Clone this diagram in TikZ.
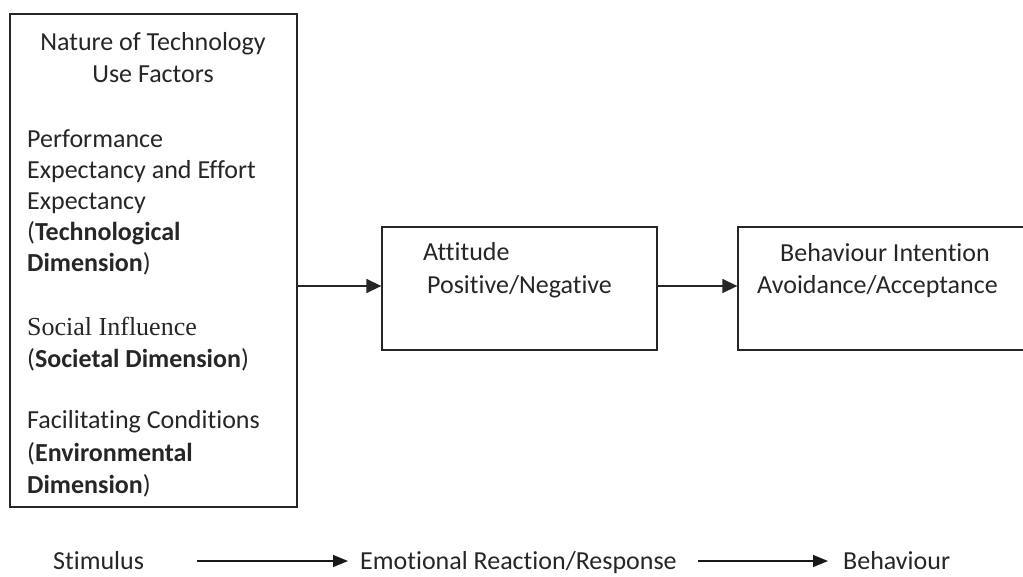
\documentclass[tikz,border=0pt]{standalone}
\usepackage{fontspec}
\setmainfont{Carlito}[Ligatures={NoCommon}]
\newfontfamily\socfont{Liberation Serif}
\usetikzlibrary{arrows.meta}
\begin{document}
\begin{tikzpicture}[x=1pt,y=-1pt,
  box/.style={draw=black!85,line width=1.3pt,inner sep=0pt},
  txt/.style={anchor=base west,inner sep=0pt,font=\fontsize{26}{31}\selectfont,text=black!85},
  conn/.style={line width=1.4pt,draw=black!85,-{Triangle[length=15pt,width=14pt]}},
  flow/.style={line width=1.3pt,draw=black!90,-{Triangle[length=15pt,width=12pt]}}]
\useasboundingbox (0,0) rectangle (1023,576);
% boxes
\node[box,minimum width=287pt,minimum height=493pt] (factors) at (153.5,260.5) {};
\node[box,minimum width=275pt,minimum height=123pt] (att) at (519.5,288.5) {};
\node[box,minimum width=288pt,minimum height=123pt] (beh) at (882,288.5) {};
% left box text
\node[txt,anchor=base] (h1) at (153,50) {Nature of Technology};
\node[txt,anchor=base] (h2) at (153,82) {Use Factors};
\node[txt] (p1) at (27,147) {Performance};
\node[txt] (p2) at (27,178) {Expectancy and Effort};
\node[txt] (p3) at (27,209) {Expectancy};
\node[txt] (p4) at (27,240) {(\textbf{Technological}};
\node[txt] (p5) at (27,271) {\textbf{Dimension})};
\node[txt,font=\fontsize{26}{31}\socfont] (s1) at (27,335) {Social Influence};
\node[txt] (s2) at (27,367) {(\textbf{Societal Dimension})};
\node[txt] (f1) at (27,428) {Facilitating Conditions};
\node[txt] (f2) at (27,461) {(\textbf{Environmental}};
\node[txt] (f3) at (27,493) {\textbf{Dimension})};
% attitude text
\node[txt] (a1) at (423,260) {Attitude};
\node[txt] (a2) at (427,293) {Positive/Negative};
% behaviour text
\node[txt] (b1) at (780,261) {Behaviour Intention};
\node[txt] (b2) at (757,293) {Avoidance/Acceptance};
% connectors
\draw[conn] (factors.east |- 0,286) -- (att.west |- 0,286);
\draw[conn] (att.east |- 0,286) -- (beh.west |- 0,286);
% bottom flow
\node[txt] (stim) at (53,569) {Stimulus};
\node[txt] (emo) at (360,569) {Emotional Reaction/Response};
\node[txt] (bhv) at (843,569) {Behaviour};
\coordinate (s1a) at (197,561);
\coordinate (s1b) at (348,561);
\coordinate (s2a) at (698,561);
\coordinate (s2b) at (828,561);
\draw[flow] (s1a) -- (s1b);
\draw[flow] (s2a) -- (s2b);
\end{tikzpicture}
\end{document}
